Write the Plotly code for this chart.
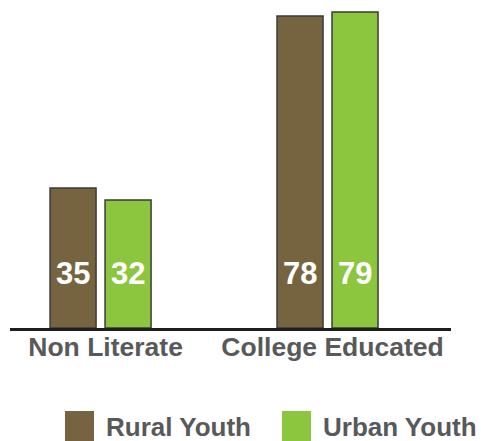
import plotly.graph_objects as go

categories = ["Non Literate", "College Educated"]
series_names = ["Rural Youth", "Urban Youth"]
rural_values = [35, 78]
urban_values = [32, 79]
colors = ["#766440", "#8cc63f"]

W, H = 481, 441
ML, MR, MT, MB = 10, 30, 8, 113
PW, PH = W - ML - MR, H - MT - MB
FONT = "Liberation Sans, Arial, sans-serif"
GRAY = "#58595b"


def px_x(p):
    return (p - ML) / PW


def px_y(p):
    return (H - MB - p) / PH


fig = go.Figure()
for name, vals, col in zip(series_names, [rural_values, urban_values], colors):
    fig.add_trace(go.Bar(
        x=categories, y=vals, name=name, showlegend=False,
        marker=dict(color=col, line=dict(color="#3a3a3a", width=1.5)),
    ))

# value labels inside bars near the base
annotations = []
for i, vals in enumerate([rural_values, urban_values]):
    shift = -27.5 if i == 0 else 27.5
    for c, v in zip(categories, vals):
        annotations.append(dict(
            x=c, y=13.75, xref="x", yref="y", text=str(v), showarrow=False,
            xshift=shift, yanchor="middle",
            font=dict(family=FONT, size=31, color="white", weight="bold"),
        ))

# manual legend
shapes = []
leg_x = [65, 282]
for lx, name, col in zip(leg_x, series_names, colors):
    shapes.append(dict(type="rect", xref="paper", yref="paper",
                       x0=px_x(lx), x1=px_x(lx + 29), y0=px_y(441), y1=px_y(411),
                       fillcolor=col, line=dict(width=0)))
    annotations.append(dict(
        x=px_x(lx + 39), y=px_y(427), xref="paper", yref="paper", text=name,
        showarrow=False, xanchor="left", yanchor="middle",
        font=dict(family=FONT, size=26, color=GRAY, weight="bold"),
    ))

fig.update_layout(
    width=W, height=H,
    margin=dict(l=ML, r=MR, t=MT, b=MB, autoexpand=False),
    paper_bgcolor="white", plot_bgcolor="white",
    barmode="group", bargap=0.5154, bargroupgap=0.1636,
    showlegend=False,
    annotations=annotations, shapes=shapes,
    xaxis=dict(type="category", range=[-0.399, 1.544], showline=True,
               linecolor="#1e1e1e", linewidth=2.5, ticks="", showgrid=False,
               ticklabelstandoff=-7, ticklabelshift=5,
               tickfont=dict(family=FONT, size=26.5, color=GRAY, weight="bold")),
    yaxis=dict(range=[0, 80], visible=False, showgrid=False, zeroline=False),
)

fig.write_html("out.html", config={"displayModeBar": False},
               post_script="document.body.style.margin='0';")
